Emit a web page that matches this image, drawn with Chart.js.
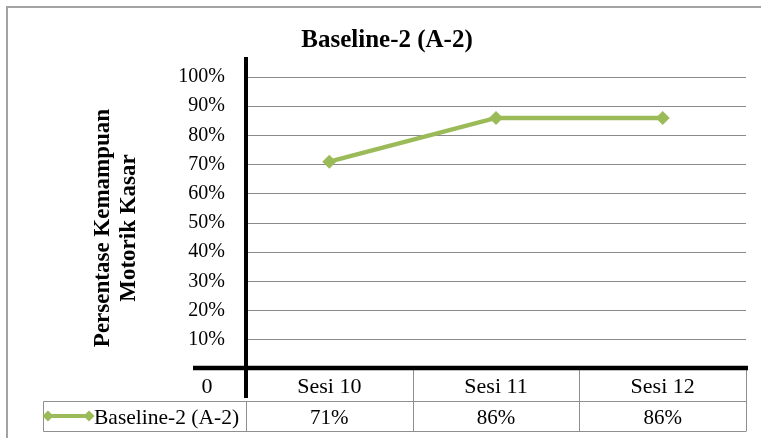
<!DOCTYPE html>
<html>
<head>
<meta charset="utf-8">
<style>
  html, body { margin: 0; padding: 0; background: #ffffff; }
  #wrap { width: 761px; height: 438px; }
</style>
<script src="https://cdn.jsdelivr.net/npm/chart.js@4/dist/chart.umd.min.js"></script>
</head>
<body>
<div id="wrap"><canvas id="chart" width="761" height="438"></canvas></div>
<script>
// Chart content
const chartTitle = 'Baseline-2 (A-2)';
const yAxisTitle = ['Persentase Kemampuan', 'Motorik Kasar'];
const seriesName = 'Baseline-2 (A-2)';
const categories = ['Sesi 10', 'Sesi 11', 'Sesi 12'];
const seriesValues = [71, 86, 86];
const yTickValues = [0, 10, 20, 30, 40, 50, 60, 70, 80, 90, 100];

const GREEN = '#9BBB59';
const SERIF = '"Liberation Serif", "Times New Roman", serif';
const TABLE_GRID = '#8f8f8f';

function diamond(ctx, x, y, r) {
  ctx.beginPath();
  ctx.moveTo(x, y - r);
  ctx.lineTo(x + r, y);
  ctx.lineTo(x, y + r);
  ctx.lineTo(x - r, y);
  ctx.closePath();
  ctx.fill();
}

// Axes, titles and the data table under the plot
const decorations = {
  id: 'decorations',
  afterDraw(chart) {
    const ctx = chart.ctx;
    const area = chart.chartArea;
    const xs = chart.scales.x;
    const ys = chart.scales.y;
    const zeroY = ys.getPixelForValue(0);
    const colW = (area.right - area.left) / categories.length;
    const row1Bottom = zeroY + 32;
    const row2Bottom = row1Bottom + 30;
    const legendLeft = 43;

    ctx.save();

    // outer frame
    ctx.strokeStyle = '#a3a3a3';
    ctx.lineWidth = 2;
    ctx.beginPath();
    ctx.moveTo(7, chart.height);
    ctx.lineTo(7, 7);
    ctx.lineTo(chart.width, 7);
    ctx.stroke();

    // title
    ctx.fillStyle = '#000';
    ctx.font = 'bold 25px ' + SERIF;
    ctx.textAlign = 'center';
    ctx.textBaseline = 'alphabetic';
    ctx.fillText(chartTitle, 387, 47);

    // rotated y-axis title
    ctx.font = 'bold 23px ' + SERIF;
    const midY = (area.top + area.bottom) / 2 + 5;
    yAxisTitle.forEach((line, i) => {
      ctx.save();
      ctx.translate(109 + i * 26, midY);
      ctx.rotate(-Math.PI / 2);
      ctx.fillText(line, 0, 0);
      ctx.restore();
    });

    // data table grid
    ctx.strokeStyle = TABLE_GRID;
    ctx.lineWidth = 1;
    ctx.beginPath();
    // header row separators
    for (let i = 1; i <= categories.length; i++) {
      const x = Math.round(area.left + colW * i) + 0.5;
      ctx.moveTo(x, zeroY);
      ctx.lineTo(x, row2Bottom);
    }
    // value row box
    ctx.moveTo(legendLeft + 0.5, row1Bottom + 0.5);
    ctx.lineTo(area.right + 0.5, row1Bottom + 0.5);
    ctx.moveTo(legendLeft + 0.5, row2Bottom + 0.5);
    ctx.lineTo(area.right + 0.5, row2Bottom + 0.5);
    ctx.moveTo(legendLeft + 0.5, row1Bottom + 0.5);
    ctx.lineTo(legendLeft + 0.5, row2Bottom + 0.5);
    ctx.moveTo(area.left + 0.5, row1Bottom);
    ctx.lineTo(area.left + 0.5, row2Bottom);
    ctx.stroke();

    // thick axis lines
    ctx.strokeStyle = '#000';
    ctx.lineWidth = 4;
    ctx.beginPath();
    ctx.moveTo(area.left, area.top - 20);
    ctx.lineTo(area.left, row1Bottom - 3);
    ctx.stroke();
    ctx.lineWidth = 4.5;
    ctx.beginPath();
    ctx.moveTo(193, zeroY - 1);
    ctx.lineTo(area.right + 2, zeroY - 1);
    ctx.stroke();

    // table text
    ctx.fillStyle = '#000';
    ctx.textAlign = 'center';
    ctx.textBaseline = 'middle';
    const headY = (zeroY + row1Bottom) / 2 + 2;
    const valY = (row1Bottom + row2Bottom) / 2 + 2;
    ctx.font = '22px ' + SERIF;
    ctx.fillText('0', 207, headY);
    categories.forEach((c, i) => {
      ctx.fillText(c, xs.getPixelForValue(i), headY);
    });
    ctx.font = '21px ' + SERIF;
    seriesValues.forEach((v, i) => {
      ctx.fillText(v + '%', xs.getPixelForValue(i), valY);
    });

    // legend key inside the table
    const ly = (row1Bottom + row2Bottom) / 2;
    ctx.strokeStyle = GREEN;
    ctx.fillStyle = GREEN;
    ctx.lineWidth = 4;
    ctx.beginPath();
    ctx.moveTo(48, ly);
    ctx.lineTo(89, ly);
    ctx.stroke();
    diamond(ctx, 48, ly, 5.5);
    diamond(ctx, 89, ly, 5.5);
    ctx.fillStyle = '#000';
    ctx.textAlign = 'left';
    ctx.font = '21.5px ' + SERIF;
    ctx.fillText(seriesName, 94, valY);

    ctx.restore();
  }
};

new Chart(document.getElementById('chart'), {
  type: 'line',
  data: {
    labels: categories,
    datasets: [{
      label: seriesName,
      data: seriesValues,
      borderColor: GREEN,
      backgroundColor: GREEN,
      borderWidth: 4.5,
      pointStyle: 'rectRot',
      pointRadius: 7,
      pointHoverRadius: 7,
      pointBackgroundColor: GREEN,
      pointBorderColor: GREEN,
      pointBorderWidth: 0,
      tension: 0
    }]
  },
  options: {
    responsive: false,
    animation: false,
    events: [],
    layout: { padding: { left: 0, top: 77, right: 15, bottom: 69 } },
    plugins: {
      legend: { display: false },
      title: { display: false },
      tooltip: { enabled: false }
    },
    scales: {
      x: {
        type: 'category',
        display: false,
        offset: true
      },
      y: {
        min: 0,
        max: 100,
        afterFit(scale) { scale.width = 246; },
        afterBuildTicks(scale) { scale.ticks = yTickValues.map(v => ({ value: v })); },
        border: { display: false },
        grid: {
          drawTicks: false,
          color: ctx => ctx.tick && ctx.tick.value === 0 ? 'rgba(0,0,0,0)' : '#8a8a8a',
          lineWidth: 1
        },
        ticks: {
          padding: 21,
          color: '#000',
          font: { family: SERIF, size: 20 },
          callback: v => v === 0 ? '' : v + '%'
        }
      }
    }
  },
  plugins: [decorations]
});
</script>
</body>
</html>
